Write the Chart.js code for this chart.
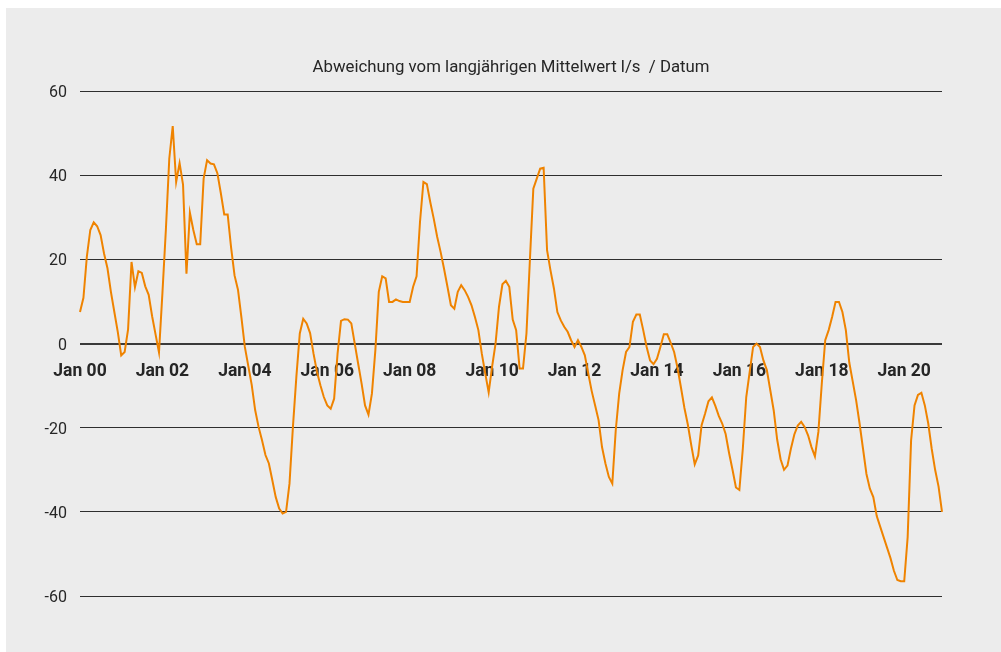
<!DOCTYPE html>
<html>
<head>
<meta charset="utf-8">
<script src="https://cdn.jsdelivr.net/npm/chart.js@4"></script>
<style>
  html, body { margin: 0; padding: 0; background: #fff; }
  #box { position: absolute; left: 6px; top: 8px; width: 995px; height: 644px; background: #ececec; }
</style>
</head>
<body>
<div id="box"><canvas id="myChart" width="995" height="644"></canvas></div>
<script>
// Monate und Jahre (Kategorien: Jan 2000 bis Dez 2020)
const monate = ['Jan', 'Feb', 'Mär', 'Apr', 'Mai', 'Jun', 'Jul', 'Aug', 'Sep', 'Okt', 'Nov', 'Dez'];
const jahre = ['00', '01', '02', '03', '04', '05', '06', '07', '08', '09', '10',
               '11', '12', '13', '14', '15', '16', '17', '18', '19', '20'];

// Beschriftete Ticks auf der x-Achse
const tickLabels = ['Jan 00', 'Jan 02', 'Jan 04', 'Jan 06', 'Jan 08', 'Jan 10',
                    'Jan 12', 'Jan 14', 'Jan 16', 'Jan 18', 'Jan 20'];

// Abweichung vom langjährigen Mittelwert (l/s), ein Wert pro Monat
const abweichung = [
  7.5, 10.9, 20.7, 27.0, 28.8, 27.9, 25.8, 21.4, 17.9, 12.3, 7.5, 2.8,          // 2000
  -2.8, -2.0, 3.4, 19.4, 13.4, 17.2, 16.8, 13.6, 11.6, 6.5, 2.2, -2.1,         // 2001
  12, 27, 44, 51.7, 38.4, 42.9, 37.8, 16.6, 31.1, 27.0, 23.6, 23.6,            // 2002
  39.2, 43.6, 42.8, 42.6, 40.5, 35.8, 30.7, 30.7, 22.8, 16.2, 12.8, 6.2,       // 2003
  -0.8, -5.3, -9.8, -15.8, -19.8, -23, -26.5, -28.5, -32.5, -36.5, -39.2, -40.4, // 2004
  -40, -33.3, -19.8, -7.9, 2.4, 5.9, 4.8, 2.5, -2.4, -6.7, -9.9, -12.7,        // 2005
  -14.7, -15.5, -13.1, -2.4, 5.4, 5.8, 5.7, 4.8, 0, -4.8, -9.5, -14.7,         // 2006
  -16.9, -11.9, -1.6, 12.3, 16, 15.5, 9.9, 9.9, 10.5, 10.1, 9.9, 9.9,          // 2007
  9.9, 13.5, 16, 28.9, 38.4, 37.9, 33.6, 29.7, 25.4, 21.8, 17.8, 13.5,         // 2008
  9.1, 8.3, 12.3, 13.9, 12.7, 11.1, 9.1, 6.3, 3.2, -2.4, -7.1, -11.6,          // 2009
  -5.5, 0, 8.7, 14.1, 14.9, 13.5, 5.7, 3.2, -5.9, -5.9, 2.4, 19.8,             // 2010
  36.8, 39.2, 41.6, 41.8, 22.2, 17.4, 13.1, 7.5, 5.5, 4, 2.8, 0.8,             // 2011
  -0.8, 0.8, -0.8, -2.8, -7.1, -11.3, -14.7, -18.2, -24.6, -28.5, -31.7, -33.3, // 2012
  -20.6, -11.9, -6.3, -2, -0.8, 5.2, 6.9, 6.9, 3.2, -0.8, -4, -4.9,            // 2013
  -3.6, -0.8, 2.2, 2.2, 0.2, -2, -5.8, -10.5, -15.3, -19.3, -24.2, -28.7,      // 2014
  -26.6, -19.4, -16.7, -13.7, -12.8, -14.8, -17.2, -19, -21.5, -26, -30, -34.2, // 2015
  -34.8, -25, -12.7, -6.7, -0.8, 0, -0.8, -4, -6.3, -11.1, -15.9, -22.8,       // 2016
  -27.5, -30, -29, -25, -21.6, -19.5, -18.6, -19.8, -21.8, -24.6, -26.8, -21,  // 2017
  -9.5, 0.8, 3.2, 6.3, 9.9, 9.9, 7.5, 3.2, -4.5, -9, -13.5, -19,               // 2018
  -25, -31, -34.5, -36.5, -41, -43.5, -46, -48.5, -51, -54, -56.2, -56.5,      // 2019
  -56.5, -46, -23, -14.7, -12.2, -11.7, -14.7, -19, -25, -30, -34, -40         // 2020
];

// Kategorien aufbauen
const labels = [];
jahre.forEach(j => monate.forEach(m => labels.push(m + ' ' + j)));

const textFarbe = '#262626';

const data = {
  labels: labels,
  datasets: [{
    label: 'Abweichung',
    data: abweichung,
    borderColor: '#ef8300',
    backgroundColor: '#ef8300',
    borderWidth: 2,
    pointRadius: 0,
    tension: 0
  }]
};

const options = {
  responsive: false,
  animation: false,
  layout: { padding: { top: 50, right: 59, bottom: 56, left: 0 } },
  plugins: {
    legend: { display: false },
    tooltip: { enabled: false },
    title: {
      display: true,
      fullSize: false,
      text: 'Abweichung vom langjährigen Mittelwert l/s  / Datum',
      color: textFarbe,
      font: { family: 'Roboto', size: 16.8, weight: 'normal', lineHeight: 1.2 },
      padding: { top: 0, bottom: 13 }
    }
  },
  scales: {
    x: {
      position: { y: 0 },
      grid: { display: false, drawTicks: false, tickLength: 0 },
      border: { display: false },
      ticks: {
        autoSkip: false,
        maxRotation: 0,
        minRotation: 0,
        padding: 18,
        color: textFarbe,
        font: { family: 'Roboto', size: 17.5, weight: 'bold' },
        callback: function (value) {
          const l = this.getLabelForValue(value);
          return tickLabels.includes(l) ? l : '';
        }
      }
    },
    y: {
      min: -60,
      max: 60,
      afterFit: function (scale) { scale.width = 74; },
      grid: {
        drawTicks: false,
        tickLength: 0,
        color: ctx => ctx.tick && ctx.tick.value === 0 ? '#3a3a3a' : '#2e2e2e',
        lineWidth: ctx => ctx.tick && ctx.tick.value === 0 ? 2 : 1
      },
      border: { display: false },
      ticks: {
        stepSize: 20,
        padding: 13,
        labelOffset: 2,
        color: textFarbe,
        font: { family: 'Roboto', size: 16, weight: 'normal' }
      }
    }
  }
};

const ctx = document.getElementById('myChart').getContext('2d');
const myChart = new Chart(ctx, {
  type: 'line',
  data: data,
  options: options
});
</script>
</body>
</html>
